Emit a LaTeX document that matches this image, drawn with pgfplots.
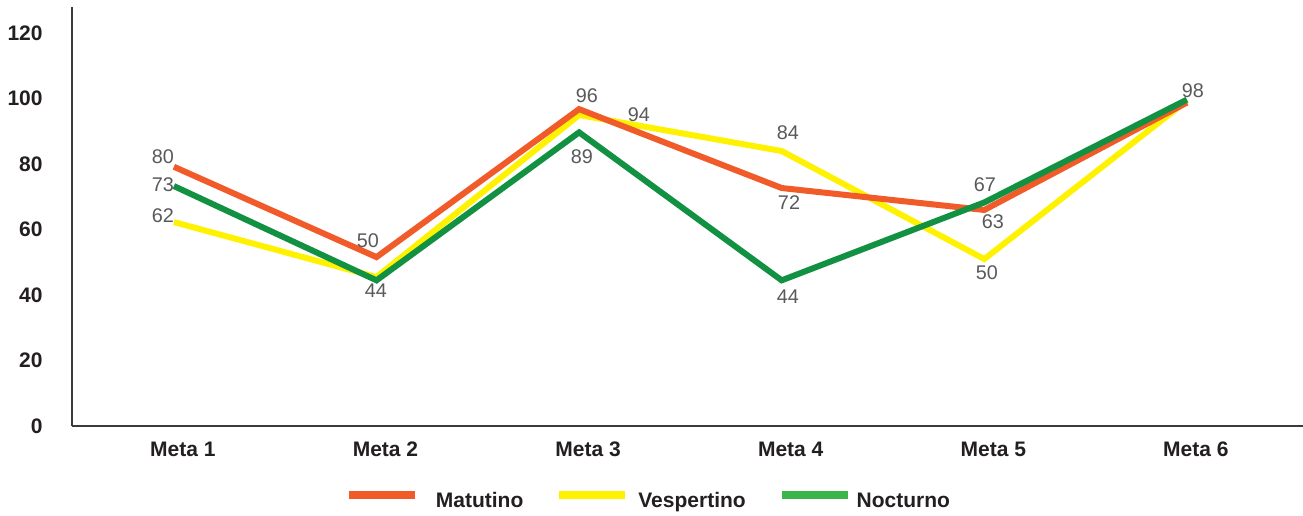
\documentclass[border=0pt]{standalone}
\usepackage{pgfplots}
\pgfplotsset{compat=1.18}
\usepackage{fontspec}
\setmainfont{Liberation Sans}

\definecolor{matutino}{HTML}{F15A29}
\definecolor{vespertino}{HTML}{FFF200}
\definecolor{nocturno}{HTML}{129143}
\definecolor{nocturnoleg}{HTML}{3AB54A}
\definecolor{axisgray}{HTML}{3A3A3A}
\definecolor{ticktext}{HTML}{231F20}
\definecolor{labeltext}{HTML}{595959}

\begin{document}
\begin{tikzpicture}
\begin{axis}[
    name=ax,
    scale only axis,
    width=615.5pt,
    height=209.5pt,
    xmin=-0.503, xmax=5.573,
    ymin=0, ymax=128,
    axis x line=bottom,
    axis y line=left,
    axis line style={-, draw=axisgray, line width=0.8pt},
    major tick length=0pt,
    xtick={0,1,2,3,4,5},
    xticklabels={Meta 1,Meta 2,Meta 3,Meta 4,Meta 5,Meta 6},
    ytick={0,20,40,60,80,100,120},
    /pgf/number format/assume math mode=true,
    ticklabel style={font=\bfseries\fontsize{10.5}{12}\selectfont, text=ticktext, inner sep=0pt},
    yticklabel style={anchor=east, xshift=-14.5pt},
    xticklabel style={anchor=base, yshift=-15.4pt, xshift=4.5pt},
    clip=false,
    legend columns=3,
    legend style={
        at={(rel axis cs:0.2217,-0.1754)}, anchor=west,
        draw=none, fill=none, inner sep=0pt, outer sep=0pt,
        font=\bfseries\fontsize{10.5}{12}\selectfont,
        nodes={inner sep=0pt, text=ticktext, text height=7.5pt, text depth=0pt},
        /tikz/every odd column/.append style={column sep=0pt},
        /tikz/every even column/.append style={column sep=16pt},
    },
    legend image code/.code={\draw[line width=4pt] (0pt,2.5pt) -- (33pt,2.5pt);},
]
% legend entries (legend green is lighter than the line)
\addlegendimage{color=matutino}
\addlegendentry{\hspace{8.5pt}Matutino}
\addlegendimage{color=vespertino}
\addlegendentry{\hspace{4.5pt}Vespertino}
\addlegendimage{color=nocturnoleg}
\addlegendentry{\hspace{2.5pt}Nocturno}

% Vespertino
\addplot[forget plot, color=vespertino, line width=3pt] coordinates {
    (0,62.3) (1,45.5) (2,95) (3,84) (4,51) (5,99.4)
};
% Matutino
\addplot[forget plot, color=matutino, line width=3pt] coordinates {
    (0,79.2) (1,51.6) (2,96.8) (3,72.7) (4,66) (5,98.8)
};
% Nocturno
\addplot[forget plot, color=nocturno, line width=3pt] coordinates {
    (0,73.3) (1,44.5) (2,89.7) (3,44.5) (4,68.3) (5,99.7)
};

% data labels
\addplot[forget plot, draw=none, nodes near coords, point meta=explicit symbolic,
    every node near coord/.style={anchor=center, inner sep=0pt,
        font=\fontsize{9.9}{11}\selectfont, text=labeltext}]
    coordinates {
    (-0.054,82.2) [80]
    (0.958,56.7) [50]
    (2.038,100.9) [96]
    (3.036,68.1) [72]
    (4.042,62.3) [63]
    (5.03,102.5) [98]
    (-0.054,64.1) [62]
    (0.997,41.4) [44]
    (2.295,95.1) [94]
    (3.031,89.6) [84]
    (4.013,46.9) [50]
    (-0.054,73.6) [73]
    (2.014,82.2) [89]
    (3.031,39.6) [44]
    (4.003,73.6) [67]
};
\end{axis}
\pgfresetboundingbox
\path ([shift={(-36pt,-44.5pt)}]ax.south west) rectangle ([shift={(0pt,3.5pt)}]ax.north east);
\end{tikzpicture}
\end{document}
